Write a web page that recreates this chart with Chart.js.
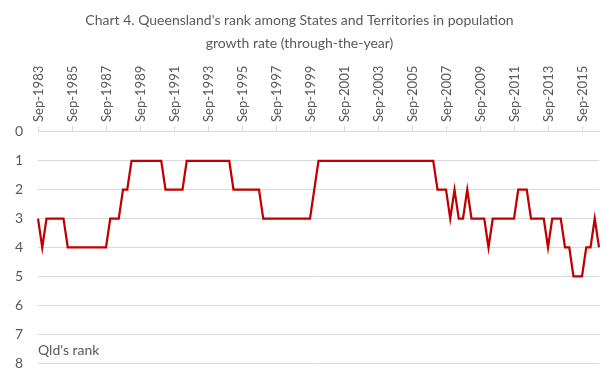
<!DOCTYPE html>
<html>
<head>
<meta charset="utf-8">
<script src="https://cdn.jsdelivr.net/npm/chart.js@4/dist/chart.umd.min.js"></script>
<style>
  html, body { margin: 0; padding: 0; background: #ffffff; }
  #wrap { width: 614px; height: 379px; }
</style>
</head>
<body>
<div id="wrap"><canvas id="c" width="614" height="379"></canvas></div>
<script>
// ---- Data ----
const titleLines = ["Chart 4. Queensland's rank among States and Territories in population", "growth rate (through-the-year)"];
const yAxisTitle = "Qld's rank";
const quarterMonths = ["Mar", "Jun", "Sep", "Dec"];
const startYear = 1983;
const startQuarter = 2; // Sep
const qldRank = [
  3,4,3,3,3,3,3,4,4,4,4,4,4,4,4,4,4,
  3,3,3,2,2,
  1,1,1,1,1,1,1,1,
  2,2,2,2,2,
  1,1,1,1,1,1,1,1,1,1,1,
  2,2,2,2,2,2,2,
  3,3,3,3,3,3,3,3,3,3,3,3,
  2,
  1,1,1,1,1,1,1,1,1,1,1,1,1,1,1,1,1,1,1,1,1,1,1,1,1,1,1,1,
  2,2,2,3,2,3,3,2,
  3,3,3,3,4,
  3,3,3,3,3,3,
  2,2,2,
  3,3,3,3,4,
  3,3,3,4,4,5,5,5,4,4,3,4
];
const labelEvery = 8;
const yTicks = [0,1,2,3,4,5,6,7,8];

// categories (quarter labels)
const categories = qldRank.map((_, i) => {
  const q = startQuarter + i;
  return quarterMonths[q % 4] + "-" + (startYear + Math.floor(q / 4));
});

const textColor = "#595959";
const gridColor = "#d9d9d9";
const fontFamily = "Lato, 'Liberation Sans', sans-serif";

const yTitlePlugin = {
  id: "yTitleInside",
  afterDraw(chart) {
    const ctx = chart.ctx;
    const a = chart.chartArea;
    ctx.save();
    ctx.font = "14px " + fontFamily;
    ctx.fillStyle = textColor;
    ctx.textAlign = "left";
    ctx.textBaseline = "middle";
    ctx.fillText(yAxisTitle, a.left, 350);
    ctx.restore();
  }
};

new Chart(document.getElementById("c"), {
  type: "line",
  data: {
    labels: categories,
    datasets: [{
      label: yAxisTitle,
      data: qldRank,
      borderColor: "#C00000",
      backgroundColor: "#C00000",
      borderWidth: 2.25,
      pointRadius: 0,
      tension: 0,
      fill: false
    }]
  },
  options: {
    responsive: false,
    devicePixelRatio: 1,
    animation: false,
    layout: { padding: { left: 0, right: 15, top: 0, bottom: 16 } },
    plugins: {
      legend: { display: false },
      tooltip: { enabled: false },
      title: {
        display: true,
        text: titleLines,
        color: textColor,
        font: { family: fontFamily, size: 14, weight: "normal", lineHeight: 1.64 },
        padding: { top: 9, bottom: 0 }
      }
    },
    scales: {
      x: {
        position: "top",
        offset: false,
        border: { display: true, color: gridColor },
        grid: { display: true, drawOnChartArea: false, drawTicks: true, tickLength: 6, color: gridColor },
        ticks: {
          autoSkip: false,
          minRotation: 90,
          maxRotation: 90,
          padding: 4,
          labelOffset: 16,
          color: textColor,
          font: { family: fontFamily, size: 13 },
          callback: function (value, index) {
            return index % labelEvery === 0 ? this.getLabelForValue(value) : null;
          }
        },
        afterFit(scale) { scale.height = 77; }
      },
      y: {
        reverse: true,
        min: 0,
        max: 8,
        border: { display: false },
        grid: { color: gridColor, drawTicks: true, tickLength: 13, tickColor: "rgba(0,0,0,0)" },
        ticks: {
          stepSize: 1,
          padding: 2,
          color: textColor,
          font: { family: fontFamily, size: 14 },
          callback: (v) => yTicks.includes(v) ? String(v) : null
        },
        afterFit(scale) { scale.width = 38; }
      }
    }
  },
  plugins: [yTitlePlugin]
});
</script>
</body>
</html>
